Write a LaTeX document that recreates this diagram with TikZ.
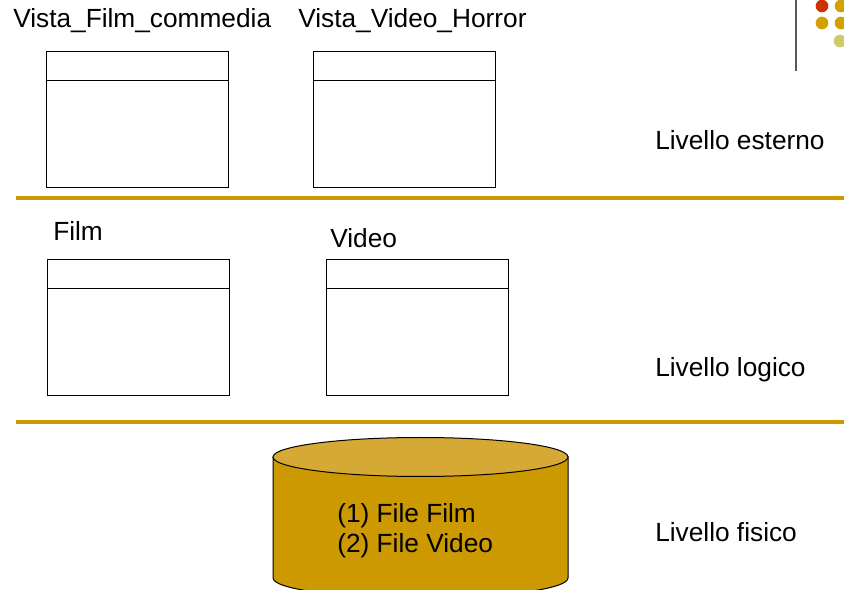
\documentclass[tikz,border=0pt]{standalone}
\usepackage{fontspec}
\setmainfont{Liberation Sans}
\definecolor{gold}{HTML}{CC9900}
\definecolor{goldtop}{HTML}{D6A935}
\definecolor{dotred}{HTML}{CC3300}
\definecolor{dotorange}{HTML}{D4A000}
\definecolor{dotpale}{HTML}{CCCC66}
\begin{document}
\begin{tikzpicture}[x=0.75pt,y=0.75pt,
  lbl/.style={anchor=base west,inner sep=0pt,font=\fontsize{19.7}{24}\selectfont},
  tbl/.style={draw=black,line width=0.75pt,fill=white,anchor=north west,inner sep=0pt,minimum width=136.5pt,minimum height=102pt},
  sep/.style={draw=gold,line width=2.4pt},
  dot/.style={circle,inner sep=0pt,minimum size=9.5pt}]
\useasboundingbox (0,0) rectangle (844,590);
\clip (0,0) rectangle (844,590);
\fill[white] (0,0) rectangle (844,590);
% logo
\draw[gray!70!black,line width=1pt] (796,590) -- (796,519);
\node[dot,fill=dotred] (d1) at (822,584) {};
\node[dot,fill=dotorange] (d2) at (841,584) {};
\node[dot,fill=dotorange] (d3) at (822,567) {};
\node[dot,fill=dotorange] (d4) at (841,567) {};
\node[dot,fill=dotpale] (d5) at (840,549) {};
% external level
\node[lbl] (t1) at (13,562) {Vista\_Film\_commedia};
\node[lbl] (t2) at (298,562) {Vista\_Video\_Horror};
\node[tbl] (v1) at (46,539) {};
\node[tbl] (v2) at (313,539) {};
\draw[line width=0.75pt] ([yshift=-22.5pt]v1.north west) -- ([yshift=-22.5pt]v1.north east);
\draw[line width=0.75pt] ([yshift=-22.5pt]v2.north west) -- ([yshift=-22.5pt]v2.north east);
\node[lbl] (l1) at (655,440) {Livello esterno};
\coordinate (s1a) at (16,392);
\coordinate (s1b) at (844,392);
\draw[sep] (s1a) -- (s1b);
% logical level
\node[lbl] (t3) at (53,349) {Film};
\node[lbl] (t4) at (330,342) {Video};
\node[tbl] (v3) at (47,331) {};
\node[tbl] (v4) at (326,331) {};
\draw[line width=0.75pt] ([yshift=-22.5pt]v3.north west) -- ([yshift=-22.5pt]v3.north east);
\draw[line width=0.75pt] ([yshift=-22.5pt]v4.north west) -- ([yshift=-22.5pt]v4.north east);
\node[lbl] (l2) at (655,213) {Livello logico};
\coordinate (s2a) at (16,168);
\coordinate (s2b) at (844,168);
\draw[sep] (s2a) -- (s2b);
% physical level
\draw[fill=gold,line width=0.75pt] (273,133) -- (273,12) arc[start angle=180,end angle=360,x radius=147.5,y radius=20] -- (568,133) -- cycle;
\draw[fill=goldtop,line width=0.75pt] (420.5,133) ellipse[x radius=147.5,y radius=19.5];
\node[lbl] (c1) at (337,67) {(1) File Film};
\node[lbl] (c2) at (337,37) {(2) File Video};
\node[lbl] (l3) at (655,48) {Livello fisico};
\end{tikzpicture}
\end{document}
